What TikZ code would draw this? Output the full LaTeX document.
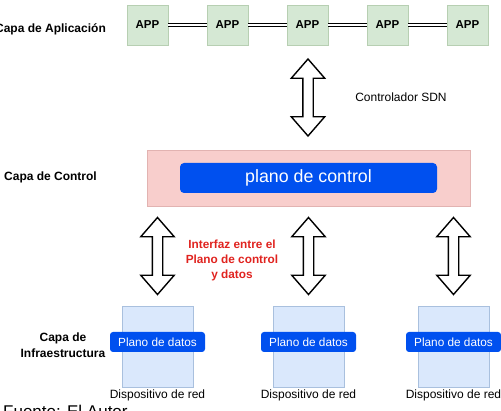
\documentclass[tikz,border=0pt]{standalone}
\usepackage{fontspec}
\setmainfont{Liberation Sans}
\usepackage{xcolor}
\usetikzlibrary{shapes.arrows}

\definecolor{appgreen}{HTML}{D5E8D4}
\definecolor{appline}{HTML}{B7CFB2}
\definecolor{ctrlpink}{HTML}{F8CECC}
\definecolor{ctrlline}{HTML}{E2B3B1}
\definecolor{planeblue}{HTML}{0050EF}
\definecolor{devblue}{HTML}{DAE8FC}
\definecolor{devline}{HTML}{A9C0DE}
\definecolor{ifred}{HTML}{E0231F}

\begin{document}
\begin{tikzpicture}[x=1pt, y=-1pt,
    appbox/.style={draw=appline, fill=appgreen, minimum width=41, minimum height=40, inner sep=0,
        font=\fontsize{11.5}{13}\selectfont\bfseries},
    layerlabel/.style={font=\fontsize{12}{16}\selectfont\bfseries, align=center},
    plainlabel/.style={font=\fontsize{12}{14}\selectfont},
    devbox/.style={draw=devline, fill=devblue, minimum width=71, minimum height=81, inner sep=0},
    dataplane/.style={fill=planeblue, text=white, rounded corners=3, minimum width=95, minimum height=20,
        inner sep=0, font=\fontsize{11.8}{13}\selectfont},
    bigarrow/.style={double arrow, draw=black, fill=white, line width=1.4pt, shape border rotate=90,
        minimum height=77, minimum width=33, double arrow head extend=11.5,
        double arrow tip angle=82, inner sep=4.5},
    link/.style={line width=1.2pt, double, double distance=1.5pt}
]
    \clip (0,0) rectangle (501,411);
    \useasboundingbox (0,0) rectangle (501,411);

    % Application layer
    \node[layerlabel] (applabel) at (50.5,29) {Capa de Aplicación};
    \foreach \i in {1,...,5} {
        \node[appbox] (app\i) at ({147.5+80*(\i-1)},25) {APP};
    }
    \foreach \i/\j in {1/2, 2/3, 3/4, 4/5} {
        \draw[link] (app\i) -- (app\j);
    }

    % Control layer
    \node[draw=ctrlline, fill=ctrlpink, minimum width=323, minimum height=56, inner sep=0] (ctrl) at (308.5,178) {};
    \node[fill=planeblue, text=white, rounded corners=4, minimum width=257, minimum height=30, inner sep=0,
        font=\fontsize{17.8}{19}\selectfont] (cplane) at (ctrl.center) {plano de control};
    \node[layerlabel] (ctrllabel) at (50.5,177) {Capa de Control};

    % SDN controller link
    \path (app3.south) -- (ctrl.north) node[midway, bigarrow] (sdnarrow) {};
    \node[plainlabel] (sdnlabel) at (401,97) {Controlador SDN};

    % Infrastructure layer
    \node[layerlabel] (infralabel) at (63,345) {Capa de\\Infraestructura};
    \foreach \i/\x in {1/157.5, 2/308.5, 3/453.5} {
        \node[devbox] (dev\i) at (\x,346.5) {};
        \node[dataplane] (dp\i) at (\x,342) {Plano de datos};
        \node[plainlabel] (devlabel\i) at (\x,395) {Dispositivo de red};
        \path (dev\i.north |- ctrl.south) -- (dev\i.north) node[midway, bigarrow] (ifarrow\i) {};
    }

    % Annotations
    \node[layerlabel, text=ifred, font=\fontsize{11.8}{15}\selectfont\bfseries] (iflabel) at (232,260)
        {Interfaz entre el\\Plano de control\\y datos};
    \node[anchor=base west, inner sep=0, font=\fontsize{17}{19}\selectfont] (source) at (3,417.5) {Fuente: El Autor};
\end{tikzpicture}
\end{document}
